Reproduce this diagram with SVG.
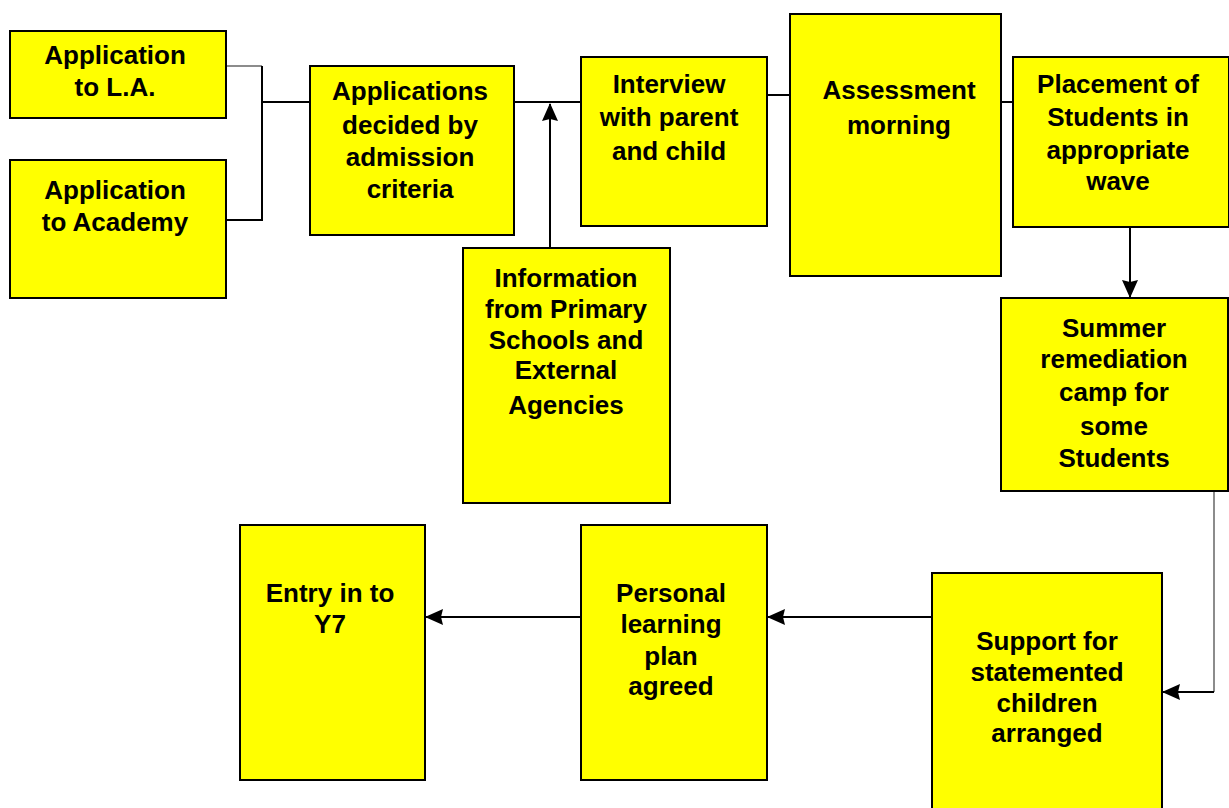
<svg xmlns="http://www.w3.org/2000/svg" width="1229" height="808" viewBox="0 0 1229 808">
  <defs>
    <style>
      .box { fill: #ffff00; stroke: #000; stroke-width: 2; }
      .lbl { font-family: "Liberation Sans", Arial, sans-serif; font-weight: bold; font-size: 26px; fill: #000; text-anchor: middle; }
      .wire { fill: none; stroke: #000; stroke-width: 2; }
      .thin { fill: none; stroke: #666; stroke-width: 1.5; }
    </style>
    <marker id="arrowL" viewBox="0 0 18 18" refX="17" refY="9" markerWidth="18" markerHeight="18" markerUnits="userSpaceOnUse" orient="auto">
      <path d="M0,1 L18,9 L0,17 L2,9 z" fill="#000"/>
    </marker>
  </defs>

  <rect width="1229" height="808" fill="#fff"/>

  <g id="connectors">
    <path class="thin" d="M226,66 H262"/>
    <path class="wire" d="M262,66 V220 H226"/>
    <path class="wire" d="M262,102 H310"/>
    <path class="wire" d="M514,102 H581"/>
    <path class="wire" d="M550,248 V104" marker-end="url(#arrowL)"/>
    <path class="wire" d="M767,95 H790"/>
    <path class="wire" d="M1001,102 H1013"/>
    <path class="wire" d="M1130,227 V297" marker-end="url(#arrowL)"/>
    <path class="thin" d="M1214,491 V692"/>
    <path class="wire" d="M1214,692 H1163" marker-end="url(#arrowL)"/>
    <path class="wire" d="M932,617 H768" marker-end="url(#arrowL)"/>
    <path class="wire" d="M581,617 H426" marker-end="url(#arrowL)"/>
  </g>

  <g id="app-la">
    <rect class="box" x="10" y="31" width="216" height="87"/>
    <text class="lbl"><tspan x="115" y="64">Application</tspan><tspan x="115" y="96">to L.A.</tspan></text>
  </g>

  <g id="app-academy">
    <rect class="box" x="10" y="160" width="216" height="138"/>
    <text class="lbl"><tspan x="115" y="199">Application</tspan><tspan x="115" y="231">to Academy</tspan></text>
  </g>

  <g id="admission">
    <rect class="box" x="310" y="66" width="204" height="169"/>
    <text class="lbl"><tspan x="410" y="100">Applications</tspan><tspan x="410" y="134">decided by</tspan><tspan x="410" y="166">admission</tspan><tspan x="410" y="198">criteria</tspan></text>
  </g>

  <g id="interview">
    <rect class="box" x="581" y="57" width="186" height="169"/>
    <text class="lbl"><tspan x="669" y="93">Interview</tspan><tspan x="669" y="126">with parent</tspan><tspan x="669" y="160">and child</tspan></text>
  </g>

  <g id="assessment">
    <rect class="box" x="790" y="14" width="211" height="262"/>
    <text class="lbl"><tspan x="899" y="99">Assessment</tspan><tspan x="899" y="134">morning</tspan></text>
  </g>

  <g id="placement">
    <rect class="box" x="1013" y="57" width="216" height="170"/>
    <text class="lbl"><tspan x="1118" y="93">Placement of</tspan><tspan x="1118" y="126">Students in</tspan><tspan x="1118" y="159">appropriate</tspan><tspan x="1118" y="190">wave</tspan></text>
  </g>

  <g id="information">
    <rect class="box" x="463" y="248" width="207" height="255"/>
    <text class="lbl"><tspan x="566" y="287">Information</tspan><tspan x="566" y="318">from Primary</tspan><tspan x="566" y="349">Schools and</tspan><tspan x="566" y="379">External</tspan><tspan x="566" y="414">Agencies</tspan></text>
  </g>

  <g id="summer">
    <rect class="box" x="1001" y="298" width="227" height="193"/>
    <text class="lbl"><tspan x="1114" y="337">Summer</tspan><tspan x="1114" y="368">remediation</tspan><tspan x="1114" y="401">camp for</tspan><tspan x="1114" y="435">some</tspan><tspan x="1114" y="467">Students</tspan></text>
  </g>

  <g id="support">
    <rect class="box" x="932" y="573" width="230" height="245"/>
    <text class="lbl"><tspan x="1047" y="650">Support for</tspan><tspan x="1047" y="681">statemented</tspan><tspan x="1047" y="712">children</tspan><tspan x="1047" y="742">arranged</tspan></text>
  </g>

  <g id="personal">
    <rect class="box" x="581" y="525" width="186" height="255"/>
    <text class="lbl"><tspan x="671" y="602">Personal</tspan><tspan x="671" y="633">learning</tspan><tspan x="671" y="665">plan</tspan><tspan x="671" y="695">agreed</tspan></text>
  </g>

  <g id="entry">
    <rect class="box" x="240" y="525" width="185" height="255"/>
    <text class="lbl"><tspan x="330" y="602">Entry in to</tspan><tspan x="330" y="633">Y7</tspan></text>
  </g>
</svg>
